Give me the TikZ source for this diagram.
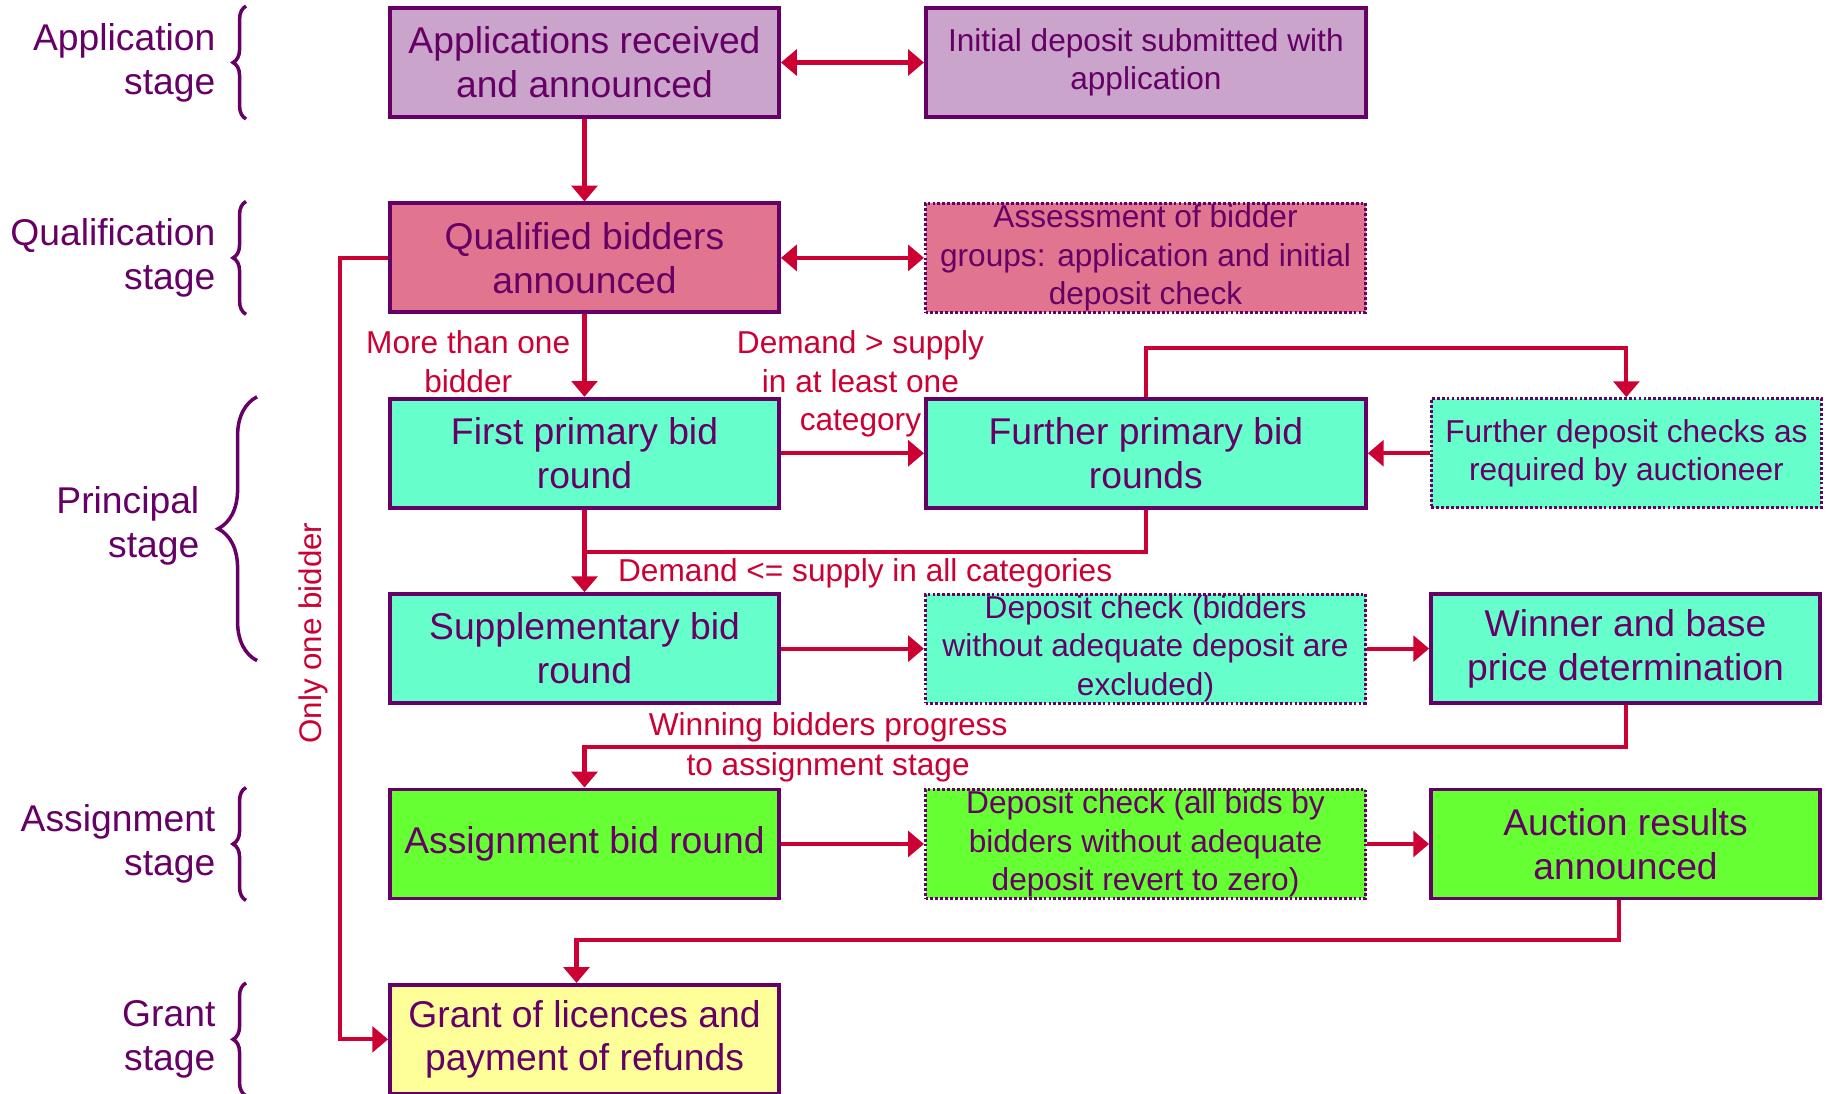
\documentclass[tikz,border=0pt]{standalone}
\usepackage{fontspec}
\setmainfont{Liberation Sans}
\usetikzlibrary{arrows.meta,positioning,calc,decorations.pathreplacing}

\definecolor{stagepurple}{RGB}{102,0,102}
\definecolor{linkred}{RGB}{204,0,51}
\definecolor{appfill}{RGB}{202,164,202}
\definecolor{qualfill}{RGB}{225,117,143}
\definecolor{prinfill}{RGB}{102,255,204}
\definecolor{assfill}{RGB}{102,255,51}
\definecolor{grantfill}{RGB}{255,255,153}

\begin{document}
\begin{tikzpicture}[
  >={Triangle[length=4.5pt,width=7.3pt]},
  stepbox/.style={rectangle, draw=stagepurple, line width=1.1pt, text=stagepurple,
                  minimum width=3.89cm, minimum height=1.09cm, align=center, inner sep=0pt,
                  font=\fontsize{10.6}{12.5}\selectfont},
  checkbox/.style={stepbox, minimum width=4.40cm, font=\fontsize{9}{10.9}\selectfont},
  widebox/.style={stepbox, minimum width=4.40cm},
  dotbox/.style={checkbox, line width=0.9pt, dash pattern=on 0.8pt off 0.6pt},
  link/.style={->, line width=1.15pt, draw=linkred},
  both/.style={<->, line width=1.15pt, draw=linkred},
  plainlink/.style={line width=1.15pt, draw=linkred},
  lbl/.style={font=\fontsize{9}{10.9}\selectfont, text=linkred, align=center, inner sep=1.5pt},
  stagelbl/.style={font=\fontsize{10.6}{12.5}\selectfont, text=stagepurple, align=right, inner sep=0pt},
  curly/.style={decorate, decoration={brace, amplitude=#1}, draw=stagepurple, line width=1pt},
]
\useasboundingbox (0,0) rectangle (18.31,-10.93);

% main column
\node[stepbox, fill=appfill] (app) at (5.845,-0.625) {Applications received\\and announced};
\node[stepbox, fill=qualfill,  below=0.825cm of app]    (qual)   {Qualified bidders\\announced};
\node[stepbox, fill=prinfill,  below=0.825cm of qual]   (first)  {First primary bid\\round};
\node[stepbox, fill=prinfill,  below=0.825cm of first]  (supp)   {Supplementary bid\\round};
\node[stepbox, fill=assfill,   below=0.825cm of supp]   (assign) {Assignment bid round};
\node[stepbox, fill=grantfill, below=0.825cm of assign] (grant)  {Grant of licences and\\payment of refunds};

% middle column
\node[checkbox, fill=appfill, right=1.43cm of app]   (appdep)  {Initial deposit submitted with\\application};
\node[dotbox,   fill=qualfill, right=1.43cm of qual] (assess)  {Assessment of bidder\\groups: application and initial\\deposit check};
\node[widebox,  fill=prinfill, right=1.43cm of first] (further) {Further primary bid\\rounds};
\node[dotbox,   fill=prinfill, right=1.43cm of supp]  (dep1)   {Deposit check (bidders\\without adequate deposit are\\excluded)};
\node[dotbox,   fill=assfill,  right=1.43cm of assign] (dep2)  {Deposit check (all bids by\\bidders without adequate\\deposit revert to zero)};

% right column
\node[dotbox,  fill=prinfill, minimum width=3.90cm, right=0.62cm of further] (fdep) {Further deposit checks as\\required by auctioneer};
\node[stepbox, fill=prinfill, right=0.62cm of dep1] (winner)  {Winner and base\\price determination};
\node[stepbox, fill=assfill,  right=0.62cm of dep2] (results) {Auction results\\announced};

% stage labels
\node[stagelbl, left=1.72cm of app]    (stapp)   {Application\\stage};
\node[stagelbl, left=1.72cm of qual]   (stqual)  {Qualification\\stage};
\node[stagelbl, anchor=east] (stprin) at (2.00,-5.26) {Principal\\stage};
\node[stagelbl, left=1.72cm of assign] (stass)   {Assignment\\stage};
\node[stagelbl, left=1.72cm of grant]  (stgrant) {Grant\\stage};

% braces
\draw[curly=0.13cm] ([xshift=-1.42cm]app.south west)    -- ([xshift=-1.42cm]app.north west);
\draw[curly=0.13cm] ([xshift=-1.42cm]qual.south west)   -- ([xshift=-1.42cm]qual.north west);
\draw[curly=0.39cm] ([xshift=-1.31cm,yshift=-0.12cm]supp.west) -- ([xshift=-1.31cm]first.north west);
\draw[curly=0.13cm] ([xshift=-1.42cm]assign.south west) -- ([xshift=-1.42cm]assign.north west);
\draw[curly=0.13cm] ([xshift=-1.42cm]grant.south west)  -- ([xshift=-1.42cm]grant.north west);

% application and qualification
\draw[both] (app) -- (appdep);
\draw[link] (app) -- (qual);
\draw[both] (qual) -- (assess);
\draw[link] (qual) -- node[lbl, left, xshift=-0.07cm, yshift=-0.06cm]{More than one\\bidder} (first);

% principal stage
\draw[link] (first) -- node[lbl, above, xshift=0.08cm, inner sep=4pt]{Demand > supply\\in at least one\\category} (further);
\draw[link] (further.north) -- ++(0,0.49) -| (fdep.north);
\draw[link] (fdep) -- (further);
\draw[link] (first) -- (supp);
\draw[plainlink] (further.south) -- ++(0,-0.42) -| node[lbl, below, pos=0.25]{Demand <= supply in all categories} (first.south);
\draw[link] (supp) -- (dep1);
\draw[link] (dep1) -- (winner);

% assignment and grant
\draw[link] (winner.south) -- ++(0,-0.42) -| node[lbl, pos=0.383, font=\fontsize{9}{11.4}\selectfont]{Winning bidders progress\\to assignment stage} (assign.north);
\draw[link] (assign) -- (dep2);
\draw[link] (dep2) -- (results);
\draw[link] ([xshift=-0.07cm]results.south) -- ++(0,-0.40) -| ([xshift=-0.08cm]grant.north);

% only one bidder
\draw[link] (qual.west) -- ++(-0.48,0) |- node[lbl, above, rotate=90, pos=0.24, inner sep=3pt, font=\fontsize{8.9}{10}\selectfont]{Only one bidder} (grant.west);

\end{tikzpicture}
\end{document}
